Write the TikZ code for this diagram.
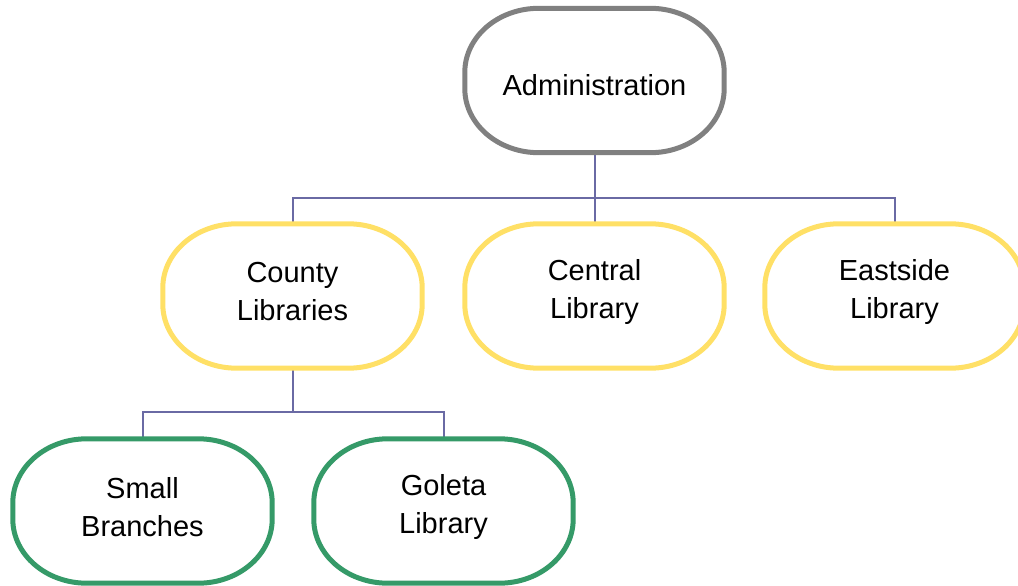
\documentclass[tikz,border=0pt]{standalone}
\usepackage{fontspec}
\setmainfont{Liberation Sans}
\usetikzlibrary{calc}
\definecolor{admgray}{RGB}{128,128,128}
\definecolor{libyellow}{RGB}{255,224,102}
\definecolor{brgreen}{RGB}{53,154,104}
\definecolor{linkpurple}{RGB}{106,106,164}
\pgfdeclarelayer{links}
\pgfdeclarelayer{pills}
\pgfsetlayers{links,pills,main}
\tikzset{
  pill/.style={minimum width=259pt, minimum height=144pt, inner sep=0pt},
  pilltext/.style={align=center, font=\fontsize{29pt}{38pt}\selectfont, inner sep=0pt},
  pillline/.style={line width=5pt, fill=white},
  link/.style={draw=linkpurple, line width=2pt}
}
\newcommand{\pillshape}[2]{%
  \draw[pillline, draw=#2]
    ($(#1.north west)+(74,0)$) -- ($(#1.north east)+(-74,0)$)
    arc[start angle=-90, end angle=0, x radius=74, y radius=64]
    -- ($(#1.south east)+(0,-64)$)
    arc[start angle=0, end angle=90, x radius=74, y radius=64]
    -- ($(#1.south west)+(74,0)$)
    arc[start angle=90, end angle=180, x radius=74, y radius=64]
    -- ($(#1.north west)+(0,64)$)
    arc[start angle=180, end angle=270, x radius=74, y radius=64]
    -- cycle;}
\begin{document}
\begin{tikzpicture}[x=1pt,y=-1pt]
\useasboundingbox (0,0) rectangle (1018,586);
\clip (0,0) rectangle (1018,586);
\node[pill] (adm) at (594.5,80.5) {};
\node[pill] (county) at (292.5,296) {};
\node[pill] (central) at (594.5,296) {};
\node[pill] (east) at (894.5,296) {};
\node[pill] (small) at (142.5,511) {};
\node[pill] (goleta) at (443.5,511) {};
\node[pilltext] (admT) at ($(adm)+(0,5)$) {Administration};
\node[pilltext] (countyT) at ($(county)+(0,-4)$) {County\\Libraries};
\node[pilltext] (centralT) at ($(central)+(0,-4)$) {Central\\Library};
\node[pilltext] (eastT) at ($(east)+(0,-4)$) {Eastside\\Library};
\node[pilltext] (smallT) at ($(small)+(0,-4)$) {Small\\Branches};
\node[pilltext] (goletaT) at ($(goleta)+(0,-4)$) {Goleta\\Library};
\begin{pgfonlayer}{pills}
\pillshape{adm}{admgray}
\pillshape{county}{libyellow}
\pillshape{central}{libyellow}
\pillshape{east}{libyellow}
\pillshape{small}{brgreen}
\pillshape{goleta}{brgreen}
\end{pgfonlayer}
\coordinate (bus1) at (594.5,198);
\coordinate (bus2) at (292.5,412);
\begin{pgfonlayer}{links}
\draw[link] (adm.south) -- (central.north);
\draw[link] (county.north) |- (bus1) -| (east.north);
\draw[link] (county.south) -- (bus2);
\draw[link] (small.north) |- (bus2) -| (goleta.north);
\end{pgfonlayer}
\end{tikzpicture}
\end{document}
